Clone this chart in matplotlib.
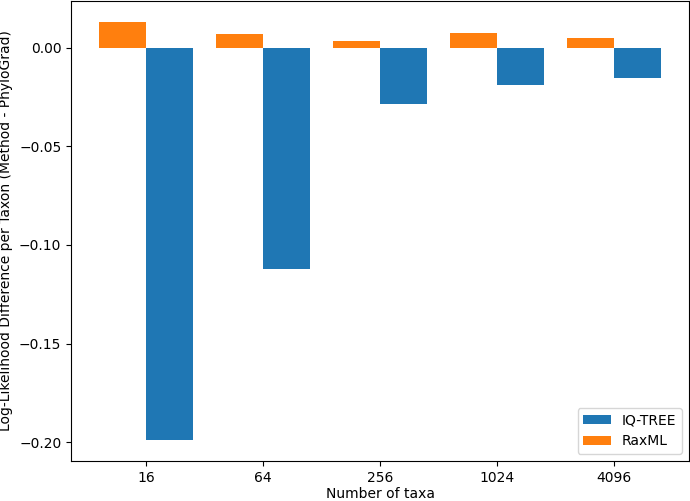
import numpy as np
import matplotlib
matplotlib.use("Agg")
import matplotlib.pyplot as plt

# data
taxa = ["16", "64", "256", "1024", "4096"]
iqtree = [-0.1988, -0.1121, -0.0287, -0.0191, -0.0152]
raxml = [0.0130, 0.0068, 0.0032, 0.0074, 0.0051]

x = np.arange(len(taxa))
width = 0.4

fig, ax = plt.subplots(figsize=(6.9, 5.01), dpi=100)
ax.bar(x, iqtree, width, align="edge", color="#1f77b4", label="IQ-TREE")
ax.bar(x, raxml, -width, align="edge", color="#ff7f0e", label="RaxML")

ax.set_xticks(x)
ax.set_xticklabels(taxa)
ax.set_xlabel("Number of taxa", labelpad=2)
ax.set_ylabel("Log-Likelihood Difference per Taxon (Method - PhyloGrad)")
ax.legend(loc="lower right")

fig.subplots_adjust(left=0.103, right=0.9986, top=0.998, bottom=0.080)
fig.savefig("out.png", dpi=100)
